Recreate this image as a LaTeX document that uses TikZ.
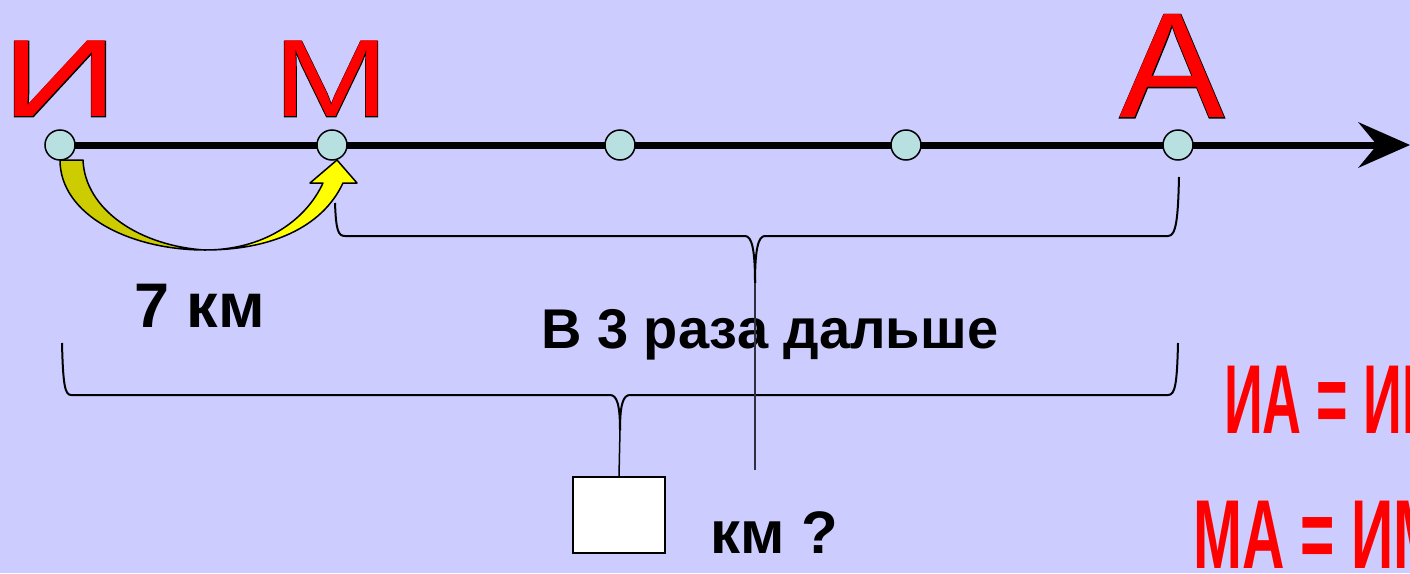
\documentclass[tikz,border=0pt]{standalone}
\usepackage{fontspec}
\setmainfont{Liberation Sans}
\newfontfamily\fbfont[FakeBold=1]{Liberation Sans}
\usepackage{graphicx}
\definecolor{bg}{HTML}{CCCCFF}
\definecolor{ptc}{HTML}{B8E0E0}
\definecolor{dkyel}{HTML}{CCCC00}
\definecolor{ltyel}{HTML}{FFFF00}
\definecolor{lred}{HTML}{FF0000}
\definecolor{thinline}{HTML}{303040}
\newcommand\bigtxt[3]{\scalebox{#1}[#2]{\fontsize{100pt}{100pt}\selectfont #3}}
\newcommand\bigtxtbold[3]{\scalebox{#1}[#2]{\fontsize{100pt}{100pt}\fbfont #3}}
\begin{document}
\begin{tikzpicture}[x=1pt,y=-1pt,
  dot/.style={circle,draw=black,line width=1.5pt,fill=ptc,minimum size=30pt,inner sep=0pt},
  letterred/.style={anchor=south,inner sep=0pt,text=lred},
  letterline/.style={anchor=south,inner sep=0pt,text=black},
  brace/.style={draw=black,line width=2pt,line join=round},
  label/.style={inner sep=0pt,anchor=base west,font=\bfseries},
  eqtext/.style={inner sep=0pt,anchor=base west,text=lred,font=\bfseries}]
\useasboundingbox (0,0) rectangle (1410,573);
\fill[bg] (0,0) rectangle (1410,573);

% letters
\node[letterline] at (60,117) {\bigtxtbold{1.63}{1.1}{И}};
\node[letterred] (lI) at (60,117) {\bigtxt{1.63}{1.1}{И}};
\node[letterline] at (331,117) {\bigtxtbold{1.39}{1.1}{М}};
\node[letterred] (lM) at (331,117) {\bigtxt{1.39}{1.1}{М}};
\node[letterline] at (1172,118) {\bigtxtbold{1.58}{1.5}{А}};
\node[letterred] (lA) at (1172,118) {\bigtxt{1.58}{1.5}{А}};

% axis
\coordinate (tip) at (1410,145);
\coordinate (start) at (60,145);
\draw[line width=7pt] (start) -- (1382,145);
\fill[black] (tip) -- (1358,122) -- (1377,145) -- (1358,168) -- cycle;

\node[dot] (pI) at (60,145) {};
\node[dot] (pM) at (332,145) {};
\node[dot] (p3) at (620,145) {};
\node[dot] (p4) at (906,145) {};
\node[dot] (pA) at (1178,145) {};

% yellow curved arrow
\filldraw[fill=dkyel,draw=black,line width=1.5pt,line join=round]
  (60,160) -- (83,160) .. controls (85,210) and (140,246) .. (205,250)
  .. controls (130,250) and (60,215) .. (60,160) -- cycle;
\filldraw[fill=ltyel,draw=black,line width=1.5pt,line join=round]
  (205,250) .. controls (262,250) and (305,222) .. (323,183)
  -- (310,183) -- (337,160) -- (357,183) -- (343,183)
  .. controls (322,228) and (270,250) .. (205,250) -- cycle;

% upper brace (M to A)
\coordinate (uc) at (755,283);
\coordinate (ue) at (755,470);
\draw[brace] (335,203) .. controls (336,230) and (338,236) .. (345,236) -- (745,236)
  .. controls (752,236) and (755,250) .. (uc);
\draw[brace] (uc) .. controls (755,250) and (758,236) .. (765,236) -- (1168,236)
  .. controls (1176,236) and (1178,220) .. (1179,177);

% lower brace (I to A)
\coordinate (lc) at (620,430);
\draw[brace] (62,343) .. controls (63,385) and (65,395) .. (71,395) -- (610,395)
  .. controls (617,395) and (620,405) .. (lc);
\draw[brace] (lc) .. controls (620,405) and (623,395) .. (630,395) -- (1168,395)
  .. controls (1175,395) and (1177,385) .. (1178,343);

% box
\node[draw=black,line width=2pt,fill=white,minimum width=92pt,minimum height=76pt,inner sep=0pt] (box) at (619,515) {};
\draw[line width=1.5pt] (lc) -- (box.north);

% labels
\node[label] (t7) at (134,327) {\fontsize{63pt}{63pt}\selectfont 7 км};
\node[label] (t3) at (541,348) {\fontsize{56pt}{56pt}\selectfont В 3 раза дальше};
\node[label] (tkm) at (710,553) {\fontsize{60pt}{60pt}\selectfont км ?};

\draw[thinline,line width=1.2pt] (uc) -- (ue);

% right equations (cut off by the page edge)
\begin{scope}
\clip (0,0) rectangle (1410,573);
\node[eqtext] (eq1) at (1224,433) {\scalebox{0.55}[1]{\fontsize{98pt}{98pt}\selectfont ИА = ИМ}};
\node[eqtext] (eq2) at (1193,568) {\scalebox{0.6}[1]{\fontsize{98pt}{98pt}\selectfont МА = ИМ}};
\end{scope}
\end{tikzpicture}
\end{document}
